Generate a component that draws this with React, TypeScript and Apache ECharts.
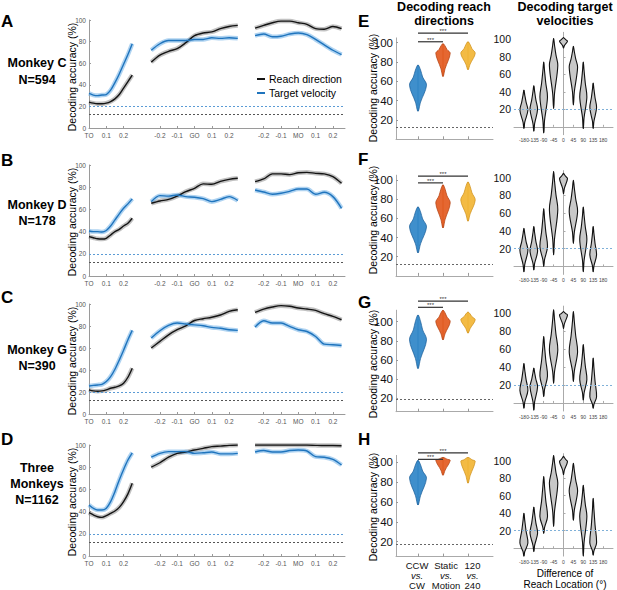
import React, { useEffect, useRef } from 'react';
import * as echarts from 'echarts';

// ---------- time bases (s) ----------
const tSeg1 = [0, 0.025, 0.05, 0.075, 0.1, 0.125, 0.15, 0.175, 0.2, 0.225, 0.25];
const tSeg23 = [-0.25, -0.2, -0.15, -0.1, -0.05, 0, 0.05, 0.1, 0.15, 0.2, 0.25];

// ---------- tick labels ----------
const seg1Ticks = [0, 0.1, 0.2];
const seg1Labels = ['TO', '0.1', '0.2'];
const seg23Ticks = [-0.2, -0.1, 0, 0.1, 0.2];
const seg2Labels = ['-0.2', '-0.1', 'GO', '0.1', '0.2'];
const seg3Labels = ['-0.2', '-0.1', 'MO', '0.1', '0.2'];
const lineYTicks = [0, 20, 40, 60, 80, 100];
const accTicks = [20, 40, 60, 80, 100];
const angleLabels = [-180, -135, -90, -45, 0, 45, 90, 135, 180];
const groupPositions = [1, 2, 3];
const groupLabels = [['CCW', 'vs.', 'CW'], ['Static', 'vs.', 'Motion'], ['120', 'vs.', '240']];

// ---------- row texts ----------
const rowLetters = ['A', 'B', 'C', 'D'];
const rightLetters = ['E', 'F', 'G', 'H'];
const rowNames = [['Monkey C', 'N=594'], ['Monkey D', 'N=178'], ['Monkey G', 'N=390'], ['Three', 'Monkeys', 'N=1162']];

// ---------- decoding time courses (%), [seg1 TO, seg2 GO, seg3 MO] ----------
const reachA1 = [24, 23, 22.5, 22.5, 23, 24.5, 27, 31, 37, 43, 49];
const velA1 = [32, 30.5, 30, 30.5, 31, 35, 42, 50, 59, 68, 78];
const reachA2 = [61, 67.5, 71, 73.5, 79, 85.5, 88, 89, 92, 94, 95];
const velA2 = [72, 78, 81, 81, 81, 82, 82, 83.5, 83, 83.5, 83];
const reachA3 = [92.5, 95, 97.5, 99, 99, 97.5, 96, 92, 91.5, 94, 92];
const velA3 = [85.5, 87, 84.5, 85, 87, 88, 86.5, 82, 77, 72, 68];

const reachB1 = [35.5, 34.5, 33.5, 33.3, 34, 37, 40, 42, 45, 47.5, 52];
const velB1 = [40.5, 40, 40, 39.6, 41, 45, 50.5, 56, 61, 65, 69.5];
const reachB2 = [65.5, 67.6, 69, 72, 76, 79, 83, 82.6, 85.3, 87, 88];
const velB2 = [67, 72.4, 72, 73, 71.5, 71, 69.7, 67, 69, 71.5, 68];
const reachB3 = [85, 87.4, 92, 92, 91.3, 93, 93.4, 92.5, 92, 89.5, 83.5];
const velB3 = [77.5, 75.7, 73.6, 74.5, 76.3, 78.4, 78.4, 73.6, 75.4, 71.5, 61];

const reachC1 = [22, 21, 20.7, 21, 22, 23.4, 24.3, 25.5, 28, 33.4, 41.6];
const velC1 = [25.5, 26, 26.4, 27, 29.5, 34, 40.7, 49, 58, 67.5, 76];
const reachC2 = [60, 66, 72, 76.6, 80.2, 85, 86.6, 88, 90, 93.3, 94.8];
const velC2 = [69, 75.7, 80.5, 82.7, 81.8, 81, 80.2, 78.7, 78, 76.6, 76];
const reachC3 = [92.4, 95.4, 97.3, 98.5, 97.9, 96.4, 95.4, 94.2, 91.2, 88.8, 85.7];
const velC3 = [79, 84.8, 82.7, 82.7, 79.6, 76.6, 75, 70.5, 63.5, 63, 62.3];

const reachD1 = [39, 37, 35.4, 34.8, 36.3, 38.4, 40.5, 43.8, 49, 56, 65.5];
const velD1 = [46, 43, 41.4, 41.4, 43, 49, 58, 68.5, 78, 86.5, 93];
const reachD2 = [80, 84, 89, 92.5, 93.7, 95.5, 97, 98.5, 99, 99.7, 100];
const velD2 = [89, 92.5, 94, 94, 94, 92.5, 93, 93.7, 92, 92, 92.5];
const reachD3 = [100, 100, 100, 100, 100, 100, 100, 99.7, 99.5, 99.5, 99.3];
const velD3 = [93.7, 95, 93.7, 93.7, 95, 95.5, 94.6, 89.5, 89, 87, 82];

const reachRows = [[reachA1, reachA2, reachA3], [reachB1, reachB2, reachB3], [reachC1, reachC2, reachC3], [reachD1, reachD2, reachD3]];
const velRows = [[velA1, velA2, velA3], [velB1, velB2, velB3], [velC1, velC2, velC3], [velD1, velD2, velD3]];
const chanceReach = 12.5;
const chanceVel = 20;

// ---------- reach-direction distributions (CCW/CW, Static/Motion, 120/240) ----------
const swarmLoE = [29, 65, 72];
const swarmPeakE = [56, 89, 89];
const swarmHiE = [77, 99, 101];
const swarmLoF = [24, 50, 57];
const swarmPeakF = [51, 76, 79];
const swarmHiF = [72, 95, 98];
const swarmLoG = [51, 81, 88];
const swarmPeakG = [81, 100, 102];
const swarmHiG = [107, 112, 110];
const swarmLoH = [57, 87, 79];
const swarmPeakH = [84, 102, 101];
const swarmHiH = [102, 105, 105];
const swarmWidth = [1, 0.85, 0.85];
const swarmChance = [12.5, 12.5, 19, 17];
const sigLow = [101, 97, 115, 103];
const sigHigh = [110, 104, 121.5, 109.5];

// ---------- target-velocity violins (angle difference) ----------
const violinAngles = [-180, -135, -90, -45, 0, 45, 90, 135];
const violLoA = [-2, -5, -7, 21, 90, 25, -2, -2];
const violPeakA = [19, 20, 34, 70, 98, 68, 34, 22];
const violHiA = [42, 47, 74, 101, 102, 92, 74, 50];
const violLoB = [-6, -4, 0, 13, 82, 26, -6, -6];
const violPeakB = [18, 17, 22, 64, 99, 62, 30, 13];
const violHiB = [43, 45, 65, 107, 105, 97, 67, 45];
const violLoC = [-6, -8, 7, 22, 83, 24, 3, -6];
const violPeakC = [14, 18, 30, 59, 98, 57, 26, 7];
const violHiC = [44, 39, 74, 104, 102, 102, 65, 50];
const violLoD = [-9, -4, 17, 25, 84, 32, -9, -8];
const violPeakD = [6, 17, 36, 74, 99, 65, 36, 6];
const violHiD = [40, 47, 82, 106, 105, 97, 72, 57];
const violWidth = [0.95, 0.9, 0.9, 1, 0.95, 1, 0.85, 0.8];

const swarmRows = [
  [swarmLoE, swarmPeakE, swarmHiE],
  [swarmLoF, swarmPeakF, swarmHiF],
  [swarmLoG, swarmPeakG, swarmHiG],
  [swarmLoH, swarmPeakH, swarmHiH],
];
const violRows = [
  [violLoA, violPeakA, violHiA],
  [violLoB, violPeakB, violHiB],
  [violLoC, violPeakC, violHiC],
  [violLoD, violPeakD, violHiD],
];

// ---------- layout ----------
const FONT = 'Liberation Sans, Arial, Helvetica, sans-serif';
const SEG_OFF = [0, 0.61, 1.21];
const LINE_G = [
  { top: 20, height: 108 },
  { top: 165, height: 111 },
  { top: 304, height: 110 },
  { top: 445, height: 111 },
];
const SW_G = [
  { top: 37.9, height: 101.4, min: 0, max: 105 },
  { top: 175.2, height: 100.7, min: 0, max: 105 },
  { top: 310.2, height: 101.5, min: 6, max: 112 },
  { top: 455.4, height: 101.2, min: 5, max: 107 },
];
const VI_G = [
  { top: 32.3, height: 102.4 },
  { top: 170.6, height: 103.8 },
  { top: 306.1, height: 104.9 },
  { top: 453.7, height: 102.4 },
];
const letterY = [21, 160, 297, 439];
const rightLetterY = [21, 159, 302, 439];
const nameY = [[63, 80], [205, 221], [350, 366], [468, 484, 500]];
const lineLabY = [77, 222, 361, 502];
const swLabY = [88, 220, 364, 507];
const groupLabelX = [417, 446, 472.5];
const groupLabelY = [565, 575, 585];

const BLUE = '#1f74bd';
const BLACK = '#141414';
const SW_FILL = ['#2f86c8', '#e35a20', '#f2b535'];
const SW_STROKE = ['#1c5f9a', '#b2400f', '#cf901a'];

// outline of a violin: thin tails towards lo / hi, widest at the peak
function violinPoints(cx: number, yLo: number, yPk: number, yHi: number, hw: number, tail: number) {
  const a = yLo + 0.35 * (yPk - yLo);
  const b = yPk + 0.4 * (yHi - yPk);
  const c = yPk + 0.75 * (yHi - yPk);
  const right = [
    [cx + tail * hw, a],
    [cx + hw, yPk],
    [cx + 0.55 * hw, b],
    [cx + tail * hw, c],
  ];
  const left = right.slice().reverse().map((p) => [2 * cx - p[0], p[1]]);
  return [[cx, yLo], ...right, [cx, yHi], ...left];
}

function nearestLabel(v: number, ticks: number[], labels: string[]) {
  let best = 0;
  let bd = Infinity;
  ticks.forEach((t, i) => {
    const d = Math.abs(t - v);
    if (d < bd) { bd = d; best = i; }
  });
  return bd < 0.02 ? labels[best] : '';
}

function buildOption() {
  const grid: any[] = [];
  const xAxis: any[] = [];
  const yAxis: any[] = [];
  const series: any[] = [];
  const graphic: any[] = [];

  const allTicks: number[] = [];
  const allLabels: string[] = [];
  seg1Ticks.forEach((t, i) => { allTicks.push(t + SEG_OFF[0]); allLabels.push(seg1Labels[i]); });
  seg23Ticks.forEach((t, i) => { allTicks.push(t + SEG_OFF[1]); allLabels.push(seg2Labels[i]); });
  seg23Ticks.forEach((t, i) => { allTicks.push(t + SEG_OFF[2]); allLabels.push(seg3Labels[i]); });

  const axisGrey = { lineStyle: { color: '#9a9a9a', width: 1 } };

  const txt = (text: string, x: number, y: number, font: string, align = 'center', extra: any = {}, fill = '#000') => ({
    type: 'text', x, y, silent: true, ...extra,
    style: { text, fill, font, textAlign: align, textVerticalAlign: 'middle', align, verticalAlign: 'middle' },
  });

  for (let r = 0; r < 4; r++) {
    // ---- line panel ----
    const gi = grid.length;
    grid.push({ left: 89, top: LINE_G[r].top, width: 256, height: LINE_G[r].height });
    xAxis.push({
      type: 'value', gridIndex: gi, min: 0, max: 1.48,
      axisLine: axisGrey,
      axisTick: { show: true, inside: true, length: 2, customValues: allTicks, lineStyle: { color: '#9a9a9a' } },
      axisLabel: {
        customValues: allTicks, fontSize: 6.5, color: '#555', fontFamily: FONT, margin: 4,
        showMinLabel: true, showMaxLabel: true, hideOverlap: false,
        formatter: (v: number) => nearestLabel(v, allTicks, allLabels),
      },
      splitLine: { show: false },
    });
    yAxis.push({
      type: 'value', gridIndex: gi, min: 0, max: 100, interval: 20,
      axisLine: { show: true, ...axisGrey },
      axisTick: { show: true, inside: true, length: 2, lineStyle: { color: '#9a9a9a' } },
      axisLabel: { fontSize: 6.5, color: '#555', fontFamily: FONT, margin: 3, customValues: lineYTicks },
      splitLine: { show: false },
    });
    for (let s = 0; s < 3; s++) {
      const ts = s === 0 ? tSeg1 : tSeg23;
      const pairs = [
        { vals: reachRows[r][s], color: BLACK, band: 'rgba(120,120,120,0.45)' },
        { vals: velRows[r][s], color: BLUE, band: 'rgba(110,175,230,0.55)' },
      ];
      pairs.forEach((p, k) => {
        const data = ts.map((t, i) => [t + SEG_OFF[s], p.vals[i]]);
        series.push({
          type: 'line', xAxisIndex: gi, yAxisIndex: gi, data, smooth: 0.3, symbol: 'none', silent: true,
          lineStyle: { color: p.band, width: 4.5 }, z: 2,
        });
        const ser: any = {
          type: 'line', xAxisIndex: gi, yAxisIndex: gi, data, smooth: 0.3, symbol: 'none', silent: true,
          lineStyle: { color: p.color, width: 1.4 }, z: 3,
        };
        if (s === 0 && k === 0) {
          ser.markLine = {
            silent: true, symbol: 'none', label: { show: false },
            data: [
              { yAxis: chanceReach, lineStyle: { color: '#555', type: [2, 2], width: 1 } },
              { yAxis: chanceVel, lineStyle: { color: '#5b9bd5', type: [2, 2], width: 1 } },
            ],
          };
        }
        series.push(ser);
      });
    }

    // ---- swarm / distribution panel ----
    const si = grid.length;
    const sw = SW_G[r];
    grid.push({ left: 396, top: sw.top, width: 97, height: sw.height });
    xAxis.push({
      type: 'value', gridIndex: si, min: 0.12, max: 4.0,
      axisLine: { lineStyle: { color: '#aaa' } },
      axisTick: { show: true, inside: true, length: 3, customValues: groupPositions, lineStyle: { color: '#999' } },
      axisLabel: { show: false },
      splitLine: { show: false },
    });
    yAxis.push({
      type: 'value', gridIndex: si, min: sw.min, max: sw.max,
      axisLine: { show: true, lineStyle: { color: '#aaa' } },
      axisTick: { show: true, inside: true, length: 2, customValues: accTicks, lineStyle: { color: '#999' } },
      axisLabel: { customValues: accTicks, fontSize: 11.5, color: '#111', fontFamily: FONT, margin: 3 },
      splitLine: { show: false },
    });
    const [lo, pk, hi] = swarmRows[r];
    series.push({
      type: 'custom', xAxisIndex: si, yAxisIndex: si, silent: true,
      data: [0, 1, 2].map((i) => [groupPositions[i], lo[i], pk[i], hi[i], swarmWidth[i]]),
      renderItem: (params: any, api: any) => {
        const x = api.value(0);
        const pLo = api.coord([x, api.value(1)]);
        const pPk = api.coord([x, api.value(2)]);
        const pHi = api.coord([x, api.value(3)]);
        const hw = api.value(4) * 8.5;
        const idx = params.dataIndex;
        return {
          type: 'group',
          children: [
            { type: 'line', shape: { x1: pLo[0], y1: pLo[1], x2: pHi[0], y2: pHi[1] }, style: { stroke: SW_STROKE[idx], lineWidth: 1 } },
            {
              type: 'polygon', shape: { points: violinPoints(pLo[0], pLo[1], pPk[1], pHi[1], hw, 0.3), smooth: 0.35 },
              style: { fill: SW_FILL[idx], stroke: SW_STROKE[idx], lineWidth: 0.8, opacity: 0.92 },
            },
          ],
        };
      },
      markLine: {
        silent: true, symbol: 'none', label: { show: false },
        data: [{ yAxis: swarmChance[r], lineStyle: { color: '#666', type: [2, 2], width: 1 } }],
      },
    });
    series.push({
      type: 'custom', xAxisIndex: si, yAxisIndex: si, silent: true, clip: false,
      data: [[1, 2, sigLow[r]], [1, 3, sigHigh[r]]],
      renderItem: (params: any, api: any) => {
        const a = api.coord([api.value(0), api.value(2)]);
        const b = api.coord([api.value(1), api.value(2)]);
        return {
          type: 'group',
          children: [
            { type: 'line', shape: { x1: a[0], y1: a[1], x2: b[0], y2: b[1] }, style: { stroke: '#333', lineWidth: 1.2 } },
            {
              type: 'text', x: (a[0] + b[0]) / 2, y: a[1] + 1,
              style: { text: '***', fill: '#333', font: `6px ${FONT}`, textAlign: 'center', textVerticalAlign: 'bottom', align: 'center', verticalAlign: 'bottom' },
            },
          ],
        };
      },
    });
    if (r === 3) {
      groupLabels.forEach((g, i) => {
        g.forEach((line, j) => {
          const font = j === 1 ? `italic 9.5px ${FONT}` : `9.5px ${FONT}`;
          graphic.push(txt(line, groupLabelX[i], groupLabelY[j], font, 'center', {}, '#111'));
        });
      });
    }

    // ---- violin panel ----
    const vi = grid.length;
    const vg = VI_G[r];
    grid.push({ left: 514, top: vg.top, width: 99, height: vg.height });
    xAxis.push({
      type: 'value', gridIndex: vi, min: -225, max: 225, interval: 45,
      axisLine: { lineStyle: { color: '#aaa' } },
      axisTick: { show: true, inside: true, length: 2, customValues: angleLabels, lineStyle: { color: '#aaa' } },
      axisLabel: {
        customValues: angleLabels, fontSize: 5, color: '#444', fontFamily: FONT, margin: 3,
        showMinLabel: true, showMaxLabel: true, hideOverlap: false,
        formatter: (v: number) => String(v),
      },
      splitLine: { show: false },
    });
    yAxis.push({
      type: 'value', gridIndex: vi, min: -9, max: 108,
      axisLine: { show: true, lineStyle: { color: '#aaa' } },
      axisTick: { show: true, inside: true, length: 2, customValues: accTicks, lineStyle: { color: '#aaa' } },
      axisLabel: { customValues: accTicks, fontSize: 10.5, color: '#111', fontFamily: FONT, margin: 3 },
      splitLine: { show: false },
    });
    const [vlo, vpk, vhi] = violRows[r];
    series.push({
      type: 'custom', xAxisIndex: vi, yAxisIndex: vi, silent: true,
      data: violinAngles.map((a, i) => [a, vlo[i], vpk[i], vhi[i], violWidth[i]]),
      renderItem: (params: any, api: any) => {
        const x = api.value(0);
        const pLo = api.coord([x, api.value(1)]);
        const pPk = api.coord([x, api.value(2)]);
        const pHi = api.coord([x, api.value(3)]);
        const hw = api.value(4) * 4.2;
        return {
          type: 'group',
          children: [
            { type: 'line', shape: { x1: pLo[0], y1: pLo[1], x2: pHi[0], y2: pHi[1] }, style: { stroke: '#111', lineWidth: 1 } },
            {
              type: 'polygon', shape: { points: violinPoints(pLo[0], pLo[1], pPk[1], pHi[1], hw, 0.22), smooth: 0.35 },
              style: { fill: '#c8c8c8', stroke: '#111', lineWidth: 1.1 },
            },
          ],
        };
      },
      markLine: {
        silent: true, symbol: 'none', label: { show: false },
        data: [{ yAxis: chanceVel, lineStyle: { color: '#7fb0d8', type: [2, 2], width: 1 } }],
      },
    });

    // ---- texts ----
    graphic.push(txt(rowLetters[r], 1, letterY[r], `bold 17px ${FONT}`, 'left'));
    graphic.push(txt(rightLetters[r], 358, rightLetterY[r], `bold 17px ${FONT}`, 'left'));
    rowNames[r].forEach((n, j) => graphic.push(txt(n, 37, nameY[r][j], `bold 12.5px ${FONT}`)));
    graphic.push(txt('Decoding accuracy (%)', 72, lineLabY[r], `10.5px ${FONT}`, 'center', { rotation: Math.PI / 2 }));
    graphic.push(txt('Decoding accuracy (%)', 373, swLabY[r], `10.5px ${FONT}`, 'center', { rotation: Math.PI / 2 }));
  }

  graphic.push(txt('Decoding reach', 444, 7, `bold 12.5px ${FONT}`));
  graphic.push(txt('directions', 444, 21, `bold 12.5px ${FONT}`));
  graphic.push(txt('Decoding target', 565, 7, `bold 12.5px ${FONT}`));
  graphic.push(txt('velocities', 565, 21, `bold 12.5px ${FONT}`));

  graphic.push(txt('Difference of', 565, 573, `10px ${FONT}`));
  graphic.push(txt('Reach Location (°)', 565, 584.5, `10px ${FONT}`));

  // legend
  const legItems = [{ name: 'Reach direction', color: BLACK, y: 79 }, { name: 'Target velocity', color: BLUE, y: 93 }];
  legItems.forEach((l) => {
    graphic.push({ type: 'line', silent: true, shape: { x1: 257, y1: l.y, x2: 265, y2: l.y }, style: { stroke: l.color, lineWidth: 2 } });
    graphic.push(txt(l.name, 269, l.y, `10.5px ${FONT}`, 'left'));
  });

  return { animation: false, backgroundColor: '#fff', grid, xAxis, yAxis, series, graphic };
}

export default function App() {
  const ref = useRef<HTMLDivElement>(null);
  useEffect(() => {
    if (!ref.current) return;
    const chart = echarts.init(ref.current, undefined, { renderer: 'svg' });
    chart.setOption(buildOption() as any);
    return () => chart.dispose();
  }, []);
  return <div ref={ref} style={{ position: 'fixed', left: 0, top: 0, width: 617, height: 590, background: '#fff' }} />;
}
